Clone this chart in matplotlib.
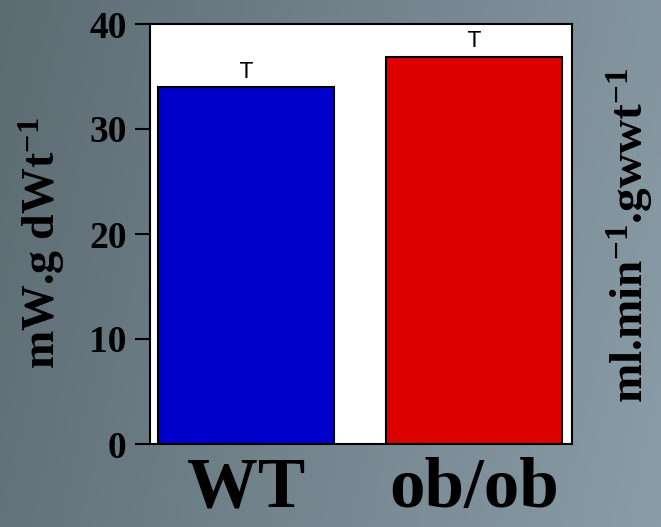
import numpy as np
import matplotlib
matplotlib.use("Agg")
import matplotlib.pyplot as plt
from matplotlib.colors import LinearSegmentedColormap

plt.rcParams["mathtext.fontset"] = "custom"
plt.rcParams["mathtext.rm"] = "Liberation Serif:bold"
plt.rcParams["mathtext.bf"] = "Liberation Serif:bold"
plt.rcParams["mathtext.it"] = "Liberation Serif:bold"

categories = ["WT", "ob/ob"]
values = [34.0, 36.9]
bar_colors = ["#0000cc", "#dd0000"]
yticks = [0, 10, 20, 30, 40]

fig = plt.figure(figsize=(6.61, 5.27), dpi=100)

# background gradient
bg = fig.add_axes([0, 0, 1, 1], zorder=-10)
cmap = LinearSegmentedColormap.from_list("bg", ["#5d6c73", "#8a9ca7"])
gx = np.linspace(0, 1, 256)
gy = np.linspace(0, 1, 64)
G = 0.85 * gx[None, :] + 0.15 * gy[:, None]
bg.imshow(G, cmap=cmap, aspect="auto", extent=[0, 1, 0, 1], origin="upper")
bg.axis("off")

ax = fig.add_axes([150/661, 1 - 444/527, 422/661, 420/527])
ax.set_facecolor("white")
x = np.arange(len(categories))
ax.bar(x, values, width=0.77, color=bar_colors, edgecolor="black", linewidth=1.5, zorder=2)
for xi, v in zip(x, values):
    ax.text(xi, v + 0.5, "T", ha="center", va="bottom", fontsize=15,
            family="DejaVu Sans", color="black")
ax.set_xlim(-0.42, 1.427)
ax.set_ylim(0, 40)
ax.set_yticks(yticks)
ax.set_xticks(x)
ax.set_xticklabels(categories, family="Liberation Serif", fontweight="bold", fontsize=51)
ax.set_yticklabels([str(t) for t in yticks], family="Liberation Serif", fontweight="bold", fontsize=27)
ax.tick_params(axis="x", length=0, pad=9)
ax.tick_params(axis="y", length=11, width=1.5, pad=6, direction="out")
for s in ax.spines.values():
    s.set_linewidth(1.5)
    s.set_color("black")

fig.text(42/661, 1 - 243/527, r"mW.g dWt$^{-1}$", rotation=90, ha="center", va="center",
         family="Liberation Serif", fontweight="bold", fontsize=33)
fig.text(630/661, 1 - 235/527, r"ml.min$^{-1}$.gwwt$^{-1}$", rotation=90, ha="center", va="center",
         family="Liberation Serif", fontweight="bold", fontsize=34)

fig.savefig("out.png", dpi=100)
